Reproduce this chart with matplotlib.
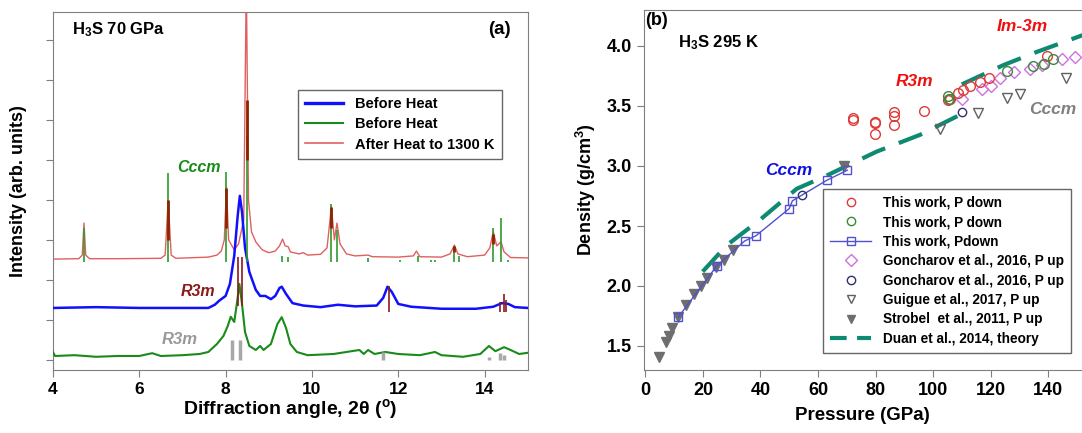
import numpy as np
import matplotlib.pyplot as plt
from matplotlib.lines import Line2D

plt.rcParams['font.family'] = ['Liberation Sans', 'DejaVu Sans']
plt.rcParams['font.weight'] = 'bold'
plt.rcParams['mathtext.fontset'] = 'custom'
plt.rcParams['mathtext.rm'] = 'Liberation Sans:bold'
plt.rcParams['mathtext.bf'] = 'Liberation Sans:bold'
plt.rcParams['mathtext.it'] = 'Liberation Sans:bold:italic'

# ---------------- panel (a): XRD patterns ----------------
red_x = [4.0, 4.6, 4.68, 4.72, 4.76, 4.85, 5.5, 6.5, 6.6, 6.67, 6.74, 6.85, 7.6, 7.8, 7.9,
         7.97, 8.02, 8.07, 8.2, 8.3, 8.42, 8.48, 8.53, 8.6, 8.7, 8.85, 9.0, 9.15, 9.25, 9.32,
         9.38, 9.45, 9.5, 9.7, 9.8, 9.9, 10.2, 10.35, 10.45, 10.52, 10.58, 10.65, 10.8, 11.0,
         11.3, 11.4, 12.0, 12.35, 12.42, 12.5, 13.0, 13.2, 13.3, 13.38, 13.6, 14.0, 14.12,
         14.2, 14.28, 14.38, 14.45, 14.6, 15.0]
red_y = [2.52, 2.53, 2.62, 3.42, 2.62, 2.53, 2.53, 2.54, 2.62, 4.0, 2.62, 2.54, 2.57, 2.62, 2.72,
         3.0, 4.33, 3.0, 2.75, 2.9, 3.5, 9.5, 4.0, 3.2, 2.95, 2.75, 2.68, 2.72, 2.85, 3.02,
         2.85, 2.83, 2.7, 2.65, 2.68, 2.62, 2.64, 2.8, 3.83, 3.0, 3.42, 2.9, 2.65, 2.6,
         2.62, 2.58, 2.57, 2.6, 2.72, 2.58, 2.57, 2.65, 2.87, 2.65, 2.58, 2.62, 2.8,
         3.2, 2.85, 2.95, 2.7, 2.56, 2.55]

blue_x = [4.0, 5.0, 6.0, 7.0, 7.6, 7.75, 7.85, 8.0, 8.1, 8.2, 8.28, 8.33, 8.38, 8.45, 8.55,
          8.7, 8.8, 8.92, 9.05, 9.15, 9.25, 9.3, 9.4, 9.55, 9.8, 10.2, 10.6, 11.0, 11.5,
          11.65, 11.75, 11.85, 12.0, 12.3, 13.0, 13.8, 14.2, 14.4, 14.55, 14.7, 15.0]
blue_y = [1.3, 1.32, 1.3, 1.3, 1.3, 1.38, 1.48, 1.6, 1.9, 2.6, 3.6, 4.1, 3.7, 2.8, 2.2,
          1.75, 1.6, 1.6, 1.52, 1.6, 1.8, 1.83, 1.65, 1.42, 1.36, 1.32, 1.38, 1.34, 1.36,
          1.55, 1.83, 1.7, 1.4, 1.33, 1.28, 1.28, 1.33, 1.42, 1.4, 1.32, 1.3]

green_x = [4.0, 4.05, 4.5, 5.0, 5.5, 6.0, 6.3, 6.5, 7.0, 7.4, 7.6, 7.8, 7.95, 8.05, 8.12, 8.2,
           8.26, 8.32, 8.38, 8.45, 8.55, 8.7, 8.8, 8.88, 9.05, 9.2, 9.3, 9.4, 9.5, 9.65, 9.9,
           10.5, 10.8, 11.1, 11.2, 11.3, 11.45, 11.7, 12.0, 12.5, 12.85, 13.0, 13.5, 13.9,
           14.1, 14.25, 14.45, 14.6, 14.8, 15.0]
green_y = [0.2, 0.1, 0.12, 0.08, 0.1, 0.1, 0.17, 0.1, 0.12, 0.15, 0.2, 0.4, 0.6, 0.85, 1.08, 0.95,
           1.4, 1.9, 1.4, 0.7, 0.35, 0.25, 0.35, 0.25, 0.4, 0.9, 1.07, 0.8, 0.4, 0.2, 0.12,
           0.15, 0.2, 0.25, 0.15, 0.25, 0.15, 0.2, 0.15, 0.12, 0.2, 0.12, 0.08, 0.15,
           0.35, 0.22, 0.32, 0.25, 0.15, 0.18]

# Cccm reference ticks (green) under the red pattern
cccm_pos = [4.72, 6.67, 8.02, 8.5, 9.3, 9.45, 10.45, 10.58, 11.3, 12.05, 12.45, 12.75,
            12.85, 13.3, 13.4, 14.2, 14.38, 14.55]
cccm_top = [3.3, 4.67, 4.7, 5.6, 2.6, 2.58, 3.9, 3.25, 2.55, 2.5, 2.6, 2.5,
            2.5, 2.85, 2.6, 3.3, 3.55, 2.5]
# dark segments inside the strongest red peaks
dark_pos = [6.67, 8.02, 8.5, 10.45, 13.3, 14.2]
dark_lo = [3.0, 3.3, 5.0, 3.3, 2.7, 2.9]
dark_hi = [4.0, 4.3, 6.5, 3.83, 2.85, 3.15]
# R3m reference ticks (brown) for the blue pattern
r3m_pos = [8.28, 8.38, 11.78, 14.35, 14.45, 14.5]
r3m_lo = [1.35, 1.35, 1.2, 1.2, 1.2, 1.2]
r3m_top = [2.57, 2.57, 1.85, 1.45, 1.65, 1.5]
# R3m reference bars (gray) for the green pattern
gray_pos = [8.15, 8.33, 11.65, 14.1, 14.35, 14.45]
gray_top = [0.5, 0.5, 0.2, 0.08, 0.18, 0.12]

# ---------------- panel (b): density vs pressure ----------------
red_P = [72.1, 72.1, 79.9, 79.9, 79.9, 86.5, 86.5, 86.5, 97.0, 105.2, 105.8, 108.8, 110.5,
         113.0, 116.5, 119.5, 139.5]
red_D = [3.38, 3.40, 3.37, 3.36, 3.27, 3.45, 3.42, 3.34, 3.46, 3.55, 3.56, 3.61, 3.63,
         3.67, 3.70, 3.73, 3.92]
grn_P = [105.3, 105.6, 125.8, 134.9, 138.6, 141.8]
grn_D = [3.58, 3.56, 3.79, 3.83, 3.85, 3.89]
sq_P = [11.4, 24.9, 34.5, 38.5, 50.0, 51.1, 63.0, 70.2]
sq_D = [1.74, 2.17, 2.375, 2.42, 2.645, 2.71, 2.88, 2.965]
dia_P = [110.0, 116.9, 120.2, 123.3, 128.3, 133.7, 137.8, 144.7, 149.4]
dia_D = [3.56, 3.645, 3.67, 3.73, 3.78, 3.81, 3.84, 3.89, 3.91]
gon_P = [54.3, 110.0]
gon_D = [2.755, 3.45]
gui_P = [102.4, 115.5, 125.8, 130.3, 146.2]
gui_D = [3.31, 3.44, 3.57, 3.60, 3.73]
stro_P = [4.8, 7.2, 8.1, 9.3, 11.4, 14.1, 16.8, 19.2, 21.3, 24.6, 27.3, 30.4, 69.0]
stro_D = [1.41, 1.53, 1.58, 1.65, 1.74, 1.84, 1.93, 2.00, 2.07, 2.16, 2.22, 2.30, 3.0]
duan1_P = [19.9, 28.3, 40.0, 52.6, 63.0, 80.4, 95.5, 110.5]
duan1_D = [2.12, 2.34, 2.555, 2.81, 2.92, 3.12, 3.26, 3.44]
duan2_P = [110.0, 124.4, 136.0, 152.0]
duan2_D = [3.68, 3.84, 3.95, 4.09]

W, H = 1082, 433
fig = plt.figure(figsize=(W / 100, H / 100), dpi=100)
frame = '#7f7f7f'

# ---- left panel ----
ax1 = fig.add_axes([52.9 / W, 1 - 370 / H, (527.8 - 52.9) / W, (370 - 11.7) / H])
ax1.plot(green_x, green_y, color='#1a8a1a', lw=1.5, zorder=3)
ax1.vlines(gray_pos, 0.0, gray_top, color='#a8a8a8', lw=2.5, zorder=4)
ax1.plot(blue_x, blue_y, color='#1010ff', lw=1.8, zorder=3)
ax1.vlines(r3m_pos, r3m_lo, r3m_top, color='#8b1a1a', lw=1.2, zorder=4)
ax1.plot(red_x, red_y, color='#e06060', lw=1.0, zorder=2)
ax1.vlines(cccm_pos, 2.45, cccm_top, color='#2e9a2e', lw=1.2, zorder=3)
ax1.vlines(dark_pos, dark_lo, dark_hi, color='#8b2500', lw=2.0, zorder=3)

ax1.set_xlim(4, 15)
ax1.set_ylim(-0.25, 8.7)
ax1.set_xticks([4, 6, 8, 10, 12, 14])
ax1.set_yticks(range(0, 9))
ax1.set_yticklabels([])
ax1.tick_params(direction='out', color=frame, labelsize=12.5, length=5)
for s in ax1.spines.values():
    s.set_color(frame)
ax1.set_xlabel('Diffraction angle, 2θ ($^\\mathbf{o}$)', fontsize=14, fontweight='bold', labelpad=0)
ax1.set_ylabel('Intensity (arb. units)', fontsize=13, fontweight='bold', labelpad=10)

ax1.text(4.45, 8.25, r'H$_\mathbf{3}$S 70 GPa', fontsize=12, fontweight='bold', va='center')
ax1.text(14.6, 8.25, '(a)', fontsize=13.5, fontweight='bold', va='center', ha='right')
ax1.text(6.88, 4.8, 'Cccm', color='#1a8a1a', fontsize=11.5, fontweight='bold', style='italic', va='center')
ax1.text(6.96, 1.71, 'R3m', color='#8b1a1a', fontsize=11.5, fontweight='bold', style='italic', va='center')
ax1.text(6.53, 0.5, 'R3m', color='#999999', fontsize=12, fontweight='bold', style='italic', va='center')

h1 = [Line2D([], [], color='#1010ff', lw=2.4),
      Line2D([], [], color='#1a8a1a', lw=1.5),
      Line2D([], [], color='#e06060', lw=1.2)]
leg1 = ax1.legend(h1, ['Before Heat', 'Before Heat', 'After Heat to 1300 K'],
                  loc='upper left', bbox_to_anchor=(298 / W, 1 - 90 / H),
                  bbox_transform=fig.transFigure, fontsize=10.5, frameon=True,
                  fancybox=False, borderaxespad=0, handlelength=2.6, labelspacing=0.42,
                  borderpad=0.5, handletextpad=0.8)
leg1.get_frame().set_edgecolor('#404040')
leg1.get_frame().set_linewidth(1.0)

# ---- right panel ----
ax2 = fig.add_axes([643.7 / W, 1 - 370 / H, 1 - 643.7 / W, (370 - 10) / H])
ax2.plot(duan1_P, duan1_D, color='#0f8a72', lw=3, dashes=(6, 3.5), zorder=2)
ax2.plot(duan2_P, duan2_D, color='#0f8a72', lw=3, dashes=(6, 3.5), zorder=2)
ax2.plot(stro_P, stro_D, 'v', color='#6e6e6e', ms=6.5, ls='none', zorder=3)
ax2.plot(sq_P, sq_D, '-s', color='#5050d0', mfc='none', ms=6, lw=1, zorder=4)
ax2.plot(gui_P, gui_D, 'v', color='#606060', mfc='none', ms=7, ls='none', zorder=3)
ax2.plot(dia_P, dia_D, 'D', color='#d070e0', mfc='none', ms=6, ls='none', zorder=3)
ax2.plot(red_P, red_D, 'o', color='#e03a3a', mfc='none', ms=7, ls='none', zorder=4)
ax2.plot(grn_P, grn_D, 'o', color='#3a8a3a', mfc='none', ms=7, ls='none', zorder=4)
ax2.plot(gon_P, gon_D, 'o', color='#303070', mfc='none', ms=6, ls='none', zorder=4)

ax2.set_xlim(-0.6, 151.8)
ax2.set_ylim(1.3, 4.3)
ax2.set_xticks(range(0, 160, 20))
ax2.set_yticks([1.5, 2.0, 2.5, 3.0, 3.5, 4.0])
ax2.set_yticklabels(['1.5', '2.0', '2.5', '3.0', '3.5', '4.0'])
ax2.tick_params(direction='out', color=frame, labelsize=13, length=5)
ax2.spines['right'].set_visible(False)
for s in ax2.spines.values():
    s.set_color(frame)
ax2.set_xlabel('Pressure (GPa)', fontsize=13.5, fontweight='bold', labelpad=6)
ax2.set_ylabel('Density (g/cm$^\\mathbf{3}$)', fontsize=13, fontweight='bold', labelpad=6)

ax2.text(0.004, 0.995, '(b)', transform=ax2.transAxes, fontsize=13, fontweight='bold', va='top')
ax2.text(11.3, 4.03, r'H$_\mathbf{3}$S 295 K', fontsize=12, fontweight='bold', va='center')
ax2.text(131, 4.16, 'Im-3m', color='#f01010', fontsize=12.5, fontweight='bold', style='italic',
         ha='center', va='center')
ax2.text(93.5, 3.70, 'R3m', color='#f01010', fontsize=12.5, fontweight='bold', style='italic',
         ha='center', va='center')
ax2.text(141.5, 3.47, 'Cccm', color='#808080', fontsize=12.5, fontweight='bold', style='italic',
         ha='center', va='center')
ax2.text(50, 2.96, 'Cccm', color='#1010e0', fontsize=12.5, fontweight='bold', style='italic',
         ha='center', va='center')

h2 = [Line2D([], [], marker='o', color='#e03a3a', mfc='none', ls='none', ms=6),
      Line2D([], [], marker='o', color='#3a8a3a', mfc='none', ls='none', ms=6),
      Line2D([], [], marker='s', color='#5050d0', mfc='none', lw=1, ms=6),
      Line2D([], [], marker='D', color='#d070e0', mfc='none', ls='none', ms=6),
      Line2D([], [], marker='o', color='#303070', mfc='none', ls='none', ms=6),
      Line2D([], [], marker='v', color='#606060', mfc='none', ls='none', ms=6),
      Line2D([], [], marker='v', color='#6e6e6e', ls='none', ms=6),
      Line2D([], [], color='#0f8a72', lw=3, dashes=(4, 2.5))]
labels2 = ['This work, P down', 'This work, P down', 'This work, Pdown',
           'Goncharov et al., 2016, P up', 'Goncharov et al., 2016, P up',
           'Guigue et al., 2017, P up', 'Strobel  et al., 2011, P up',
           'Duan et al., 2014, theory']
leg2 = ax2.legend(h2, labels2, loc='upper left', bbox_to_anchor=(823.4 / W, 1 - 189 / H),
                  bbox_transform=fig.transFigure, fontsize=9.8, frameon=True, fancybox=False,
                  borderaxespad=0, handlelength=3.0, labelspacing=0.4, borderpad=0.5,
                  handletextpad=0.9)
leg2.get_frame().set_edgecolor('#404040')
leg2.get_frame().set_linewidth(1.0)

fig.savefig('out.png', dpi=100)
